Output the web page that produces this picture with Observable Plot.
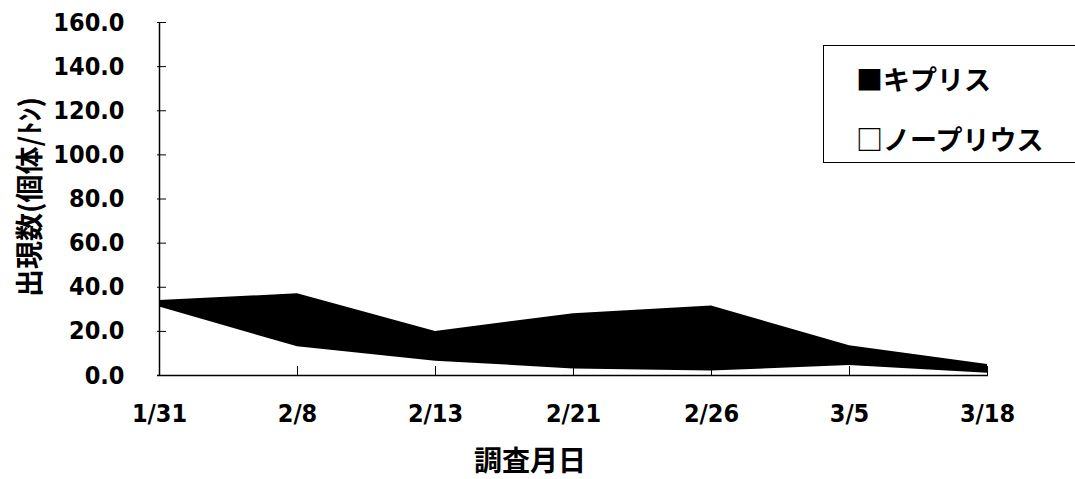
<!DOCTYPE html>
<html><head><meta charset="utf-8">
<script src="https://cdn.jsdelivr.net/npm/d3@7"></script>
<script src="https://cdn.jsdelivr.net/npm/@observablehq/plot@0.6"></script>
<style>
body{margin:0;background:#fff;}
#wrap{position:relative;width:1075px;height:479px;overflow:hidden;font-family:"DejaVu Sans Condensed","Noto Sans CJK JP",sans-serif;font-weight:bold;color:#000;}
#ytitle{position:absolute;left:28px;top:197px;transform:translate(-50%,-50%) rotate(-90deg);white-space:nowrap;font-size:28px;line-height:1;font-family:"Noto Sans CJK JP",sans-serif;font-weight:bold;}
#xtitle{position:absolute;left:530px;top:459px;transform:translate(-50%,-50%);white-space:nowrap;font-size:28px;line-height:1;font-family:"Noto Sans CJK JP",sans-serif;font-weight:bold;}
#legend{position:absolute;left:823px;top:45px;width:270px;height:118px;border:1.5px solid #000;box-sizing:border-box;font-family:"Noto Sans CJK JP",sans-serif;font-weight:bold;font-size:27px;}
#legend div{position:absolute;left:32px;white-space:nowrap;line-height:1;}
</style></head><body><div id="wrap"></div>
<script>
const dates = ["1/31","2/8","2/13","2/21","2/26","3/5","3/18"];
const seriesNames = ["ノープリウス","キプリス"];
const nauplius = [31,13,6.5,3,2,4.5,1];
const cypris = [3,24,13.5,25,29.5,9,4];
const yTicks = [0,20,40,60,80,100,120,140,160];
const yTitle = "出現数(個体/ﾄﾝ)";
const xTitle = "調査月日";
const legendItems = ["■キプリス","□ノープリウス"];

const table = [];
dates.forEach((d,i)=>table.push({date:d, series:seriesNames[0], value:nauplius[i]}));
dates.forEach((d,i)=>table.push({date:d, series:seriesNames[1], value:cypris[i]}));

const chart = Plot.plot({
  width:1075, height:479,
  marginLeft:157, marginRight:87, marginTop:22, marginBottom:104,
  x:{type:"point", domain:dates, padding:0},
  y:{domain:[0,160]},
  color:{domain:seriesNames, range:["white","black"]},
  style:{fontFamily:'"DejaVu Sans Condensed","Noto Sans CJK JP",sans-serif', fontSize:"25px", fontWeight:"bold", color:"black", background:"white"},
  marks:[
    Plot.areaY(table,{x:"date", y:"value", z:"series", fill:"series"}),
    Plot.ruleX([dates[0]],{y1:0, y2:160, stroke:"black", strokeWidth:1.5}),
    Plot.ruleY([0],{stroke:"black", strokeWidth:1.5}),
    Plot.axisY(yTicks,{tickSize:-9, tickPadding:42, tickFormat:d=>d.toFixed(1), label:null, fontSize:25}),
    Plot.axisX({tickSize:-9, tickPadding:38, label:null, fontSize:25})
  ]
});
const wrap = document.getElementById("wrap");
wrap.appendChild(chart);
const yt = document.createElement("div"); yt.id="ytitle"; yt.textContent=yTitle; wrap.appendChild(yt);
const xt = document.createElement("div"); xt.id="xtitle"; xt.textContent=xTitle; wrap.appendChild(xt);
const lg = document.createElement("div"); lg.id="legend";
legendItems.forEach((t,i)=>{const d=document.createElement("div"); d.textContent=t; d.style.top=(i===0?19:79)+"px"; lg.appendChild(d);});
wrap.appendChild(lg);
</script></body></html>
